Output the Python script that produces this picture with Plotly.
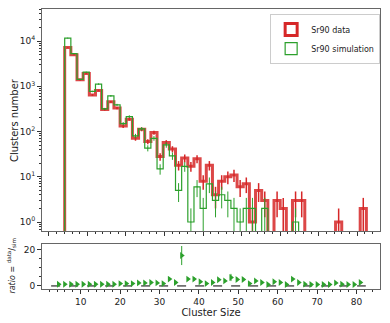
import numpy as np
import plotly.graph_objects as go

# histogram binning (cluster size)
bin_edges = 2.5 + 1.5972 * np.arange(51)

# Sr90 data counts per bin
data_counts = [0, 7200, 4970, 1390, 1920, 640, 810, 307, 454, 330,
               132, 188, 71, 112, 60, 95, 28, 57, 41, 18,
               26, 17, 25, 8, 18, 4, 8, 10, 11, 6,
               7, 1, 5, 3, 0, 3, 2, 0, 3, 3,
               0, 0, 0, 0, 0, 1, 0, 0, 0, 2]

# Sr90 simulation counts per bin
sim_counts = [0, 11650, 5300, 1420, 2060, 770, 1120, 316, 616, 390,
              150, 214, 80, 115, 43, 71, 15, 51, 29, 5,
              17, 1, 6, 2, 7, 3, 4, 3, 2, 1,
              2, 2, 0, 2, 0, 0, 0, 0, 1, 0,
              0, 0, 0, 0, 0, 0, 0, 0, 0, 0]

# ratio panel
ratio_x = np.linspace(4.37, 80.96, 50)
ratio_vals = [0.95, 0.95, 0.95, 0.95, 0.95, 0.95, 0.95, 0.95, 0.95, 0.95,
              1.3, 1.3, 1.3, 1.7, 1.7, 1.9, 1.7, 1.3, 3.8, 1.9,
              16.9, 3.8, 3.8, 2.3, 1.3, 1.9, 3.4, 2.8, 4.7, 3.6,
              3.6, 1.3, 2.8, 1.9, 0.8, 2.3, 1.9, 0.8, 3.8, 1.9,
              1.0, 0.8, 0.8, 0.8, 0.8, 1.7, 1.0, 0.8, 0.8, 1.9]
ratio_err = [0.05, 0.05, 0.1, 0.1, 0.1, 0.1, 0.1, 0.1, 0.1, 0.1,
             0.2, 0.2, 0.2, 0.3, 0.3, 0.4, 0.3, 0.3, 0.8, 0.5,
             5.3, 0.9, 1.0, 0.6, 0.5, 0.7, 0.8, 0.8, 2.0, 1.0,
             0.9, 0.5, 0.8, 0.6, 0.3, 0.7, 0.6, 0.3, 0.8, 0.6,
             0.3, 0.3, 0.3, 0.3, 0.3, 0.5, 0.3, 0.3, 0.3, 0.5]

RED = "#d62728"
GREEN = "#2ca02c"
FLOOR = 1e-2


def step_xy(counts):
    c = [v if v > 0 else FLOOR for v in counts]
    xs = [bin_edges[0]] + list(bin_edges[:-1]) + [bin_edges[-1], bin_edges[-1]]
    ys = [FLOOR] + c + [c[-1], FLOOR]
    return xs, ys


centers = (bin_edges[:-1] + bin_edges[1:]) / 2

fig = go.Figure()

for counts, color, width, name in [(data_counts, RED, 3, "Sr90 data"),
                                   (sim_counts, GREEN, 1.2, "Sr90 simulation")]:
    xs, ys = step_xy(counts)
    fig.add_trace(go.Scatter(x=xs, y=ys, mode="lines", line_shape="hv",
                             line=dict(color=color, width=width),
                             opacity=0.85 if color == RED else 1,
                             showlegend=False, hoverinfo="skip"))
    nz = [i for i, v in enumerate(counts) if v > 0]
    fig.add_trace(go.Scatter(x=centers[nz], y=[counts[i] for i in nz], mode="markers",
                             marker=dict(size=1, color=color),
                             error_y=dict(type="data", array=[np.sqrt(counts[i]) for i in nz],
                                          color=color, thickness=1.5 if color == RED else 1, width=0),
                             showlegend=False))
    # legend proxy
    fig.add_trace(go.Bar(x=[None], y=[None], name=name,
                         marker=dict(color="rgba(0,0,0,0)", line=dict(color=color, width=width))))

# ratio panel
fig.add_trace(go.Scatter(x=[bin_edges[0], bin_edges[-1]], y=[0, 0], mode="lines",
                         line=dict(color="black", width=1, dash="dash"),
                         xaxis="x2", yaxis="y2", showlegend=False))
fig.add_trace(go.Scatter(x=ratio_x, y=ratio_vals, mode="markers",
                         marker=dict(symbol="triangle-right", size=6, color=GREEN),
                         error_y=dict(type="data", array=ratio_err, color=GREEN, thickness=1, width=0),
                         xaxis="x2", yaxis="y2", showlegend=False))

axis_common = dict(showline=True, linecolor="#666", linewidth=1, mirror=True,
                   ticks="outside", tickcolor="#333", showgrid=False, zeroline=False,
                   automargin=False, tickfont=dict(size=9, color="#222"))

fig.update_layout(
    width=390, height=323,
    margin=dict(l=42, r=10, t=9, b=34),
    paper_bgcolor="white", plot_bgcolor="white",
    font=dict(family="DejaVu Sans", size=9, color="#222"),
    barmode="overlay",
    xaxis=dict(domain=[0, 1], range=[-1.79, 85.9], anchor="y", showticklabels=False,
               tick0=0, dtick=10, ticklen=4,
               minor=dict(dtick=2, ticks="outside", ticklen=2, tickcolor="#333"),
               **axis_common),
    yaxis=dict(domain=[0.207, 1], type="log", range=[-0.2, 4.71], anchor="x",
               tickvals=[1, 10, 100, 1000, 10000],
               ticktext=["10<sup>0</sup>", "10<sup>1</sup>", "10<sup>2</sup>",
                         "10<sup>3</sup>", "10<sup>4</sup>"],
               ticklen=4,
               minor=dict(tickvals=[m * 10 ** d for d in range(-1, 5) for m in range(2, 10)],
                          ticks="outside", ticklen=2, tickcolor="#333"),
               **axis_common),
    xaxis2=dict(domain=[0, 1], range=[0.18, 85.96], anchor="y2",
                tick0=0, dtick=10, ticklen=4,
                minor=dict(dtick=2, ticks="outside", ticklen=2, tickcolor="#333"),
                title=dict(text="Cluster Size", font=dict(size=10), standoff=1),
                **axis_common),
    yaxis2=dict(domain=[0, 0.16], range=[-1.7, 23.2], anchor="x2",
                tickvals=[0, 20], ticklen=4,
                minor=dict(dtick=5, ticks="outside", ticklen=2, tickcolor="#333"),
                **axis_common),
    legend=dict(x=0.675, y=0.982, xanchor="left", yanchor="top",
                bgcolor="white", bordercolor="#ccc", borderwidth=1,
                font=dict(size=8), tracegroupgap=0, itemwidth=30),
    annotations=[
        dict(text="Clusters number", xref="paper", yref="paper", x=0, y=0.6035,
             xshift=-28, xanchor="center", yanchor="middle", textangle=-90,
             showarrow=False, font=dict(size=10)),
        dict(text="<i>ratio</i> = <sup>data</sup>/<sub>sim</sub>", xref="paper", yref="paper",
             x=0, y=0.08, xshift=-30, xanchor="center", yanchor="middle", textangle=-90,
             showarrow=False, font=dict(size=8)),
    ],
)

fig.write_html("out.html", config={"displayModeBar": False},
               post_script="document.body.style.margin='0';")
